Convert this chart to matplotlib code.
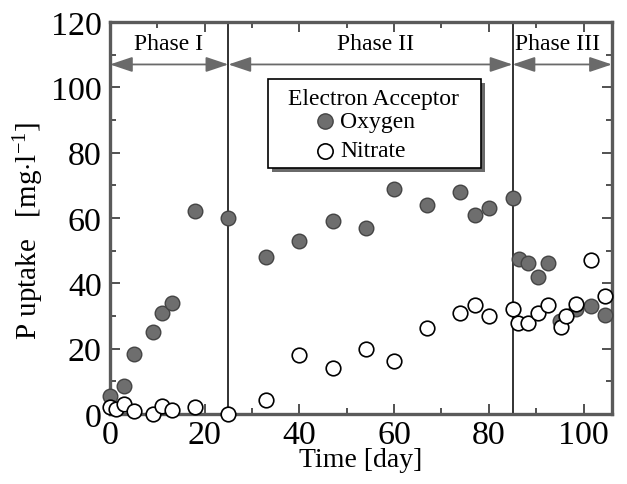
import matplotlib
matplotlib.use("Agg")
import matplotlib.pyplot as plt
from matplotlib.patches import ArrowStyle, Rectangle
from matplotlib.ticker import MultipleLocator
import matplotlib.transforms as mtransforms

plt.rcParams['font.family'] = ['Liberation Serif', 'DejaVu Serif']
plt.rcParams['mathtext.fontset'] = 'custom'
plt.rcParams['mathtext.rm'] = 'Liberation Serif'
plt.rcParams['mathtext.it'] = 'Liberation Serif:italic'

# ---- data ----
day_oxygen = [0, 3, 5, 9, 11, 13, 18, 25, 33, 40, 47, 54, 60, 67, 74, 77, 80,
              85, 86.3, 88.3, 90.3, 92.4, 95, 98.4, 101.6, 104.6]
p_oxygen = [5.5, 8.5, 18.5, 25, 31, 34, 62, 60, 48, 53, 59, 57, 69, 64, 68, 61, 63,
            66, 47.3, 46.3, 42, 46.3, 28.6, 32, 33.2, 30.3]

day_nitrate = [0, 1.2, 3, 5, 9, 11, 13, 18, 25, 33, 40, 47, 54, 60, 67, 74, 77, 80,
               85, 86.2, 88.3, 90.3, 92.5, 95.3, 96.4, 98.4, 101.6, 104.6]
p_nitrate = [2, 1.5, 3, 1, 0, 2.4, 1.1, 2.2, 0, 4.3, 18.2, 14, 20, 16.3, 26.2, 31, 33.4, 30.1,
             32.1, 28, 28, 31, 33.4, 26.5, 30, 33.8, 47, 36.2]

phase_bounds = [0, 25, 85, 106]
phase_labels = ['Phase I', 'Phase II', 'Phase III']
phase_label_x = [12.3, 56, 94.5]

series_labels = ['Oxygen', 'Nitrate']
legend_title = 'Electron Acceptor'

x_ticks = [0, 20, 40, 60, 80, 100]
y_ticks = [0, 20, 40, 60, 80, 100, 120]

oxy_face, oxy_edge = '#6e6e6e', '#444444'

fig = plt.figure(figsize=(6.27, 4.85), dpi=100)
ax = fig.add_axes([0.1754, 0.1443, 0.8006, 0.8083])

spine_col = '#5a5a5a'
for s in ax.spines.values():
    s.set_color(spine_col)
    s.set_linewidth(2.4)

ax.set_xlim(0, 106)
ax.set_ylim(0, 120)
ax.set_xticks(x_ticks)
ax.set_yticks(y_ticks)
ax.xaxis.set_minor_locator(MultipleLocator(10))
ax.yaxis.set_minor_locator(MultipleLocator(10))
ax.tick_params(which='both', direction='in', top=True, right=True,
               color='#333333', width=1.2, labelsize=24.5)
ax.tick_params(axis='y', pad=6)
ax.tick_params(axis='x', pad=4)
ax.tick_params(which='major', length=7.5)
ax.tick_params(which='minor', length=4)

# phase boundaries
for b in phase_bounds[1:-1]:
    ax.axvline(b, color='#222222', lw=1.3, zorder=2)

# phase arrows
astyle = ArrowStyle('<|-|>', head_length=1.25, head_width=0.42)
for i in range(3):
    ax.annotate('', xy=(phase_bounds[i + 1], 107), xytext=(phase_bounds[i], 107),
                arrowprops=dict(arrowstyle=astyle, mutation_scale=11, color='#6a6a6a',
                                lw=1.3, shrinkA=0, shrinkB=0),
                annotation_clip=False, zorder=3)
    ax.text(phase_label_x[i], 113.3, phase_labels[i], ha='center', va='center',
            fontsize=17)

ax.plot(day_oxygen, p_oxygen, 'o', ms=10.5, mfc=oxy_face, mec=oxy_edge, mew=1.0,
        clip_on=False, zorder=4)
ax.plot(day_nitrate, p_nitrate, 'o', ms=10.5, mfc='white', mec='black', mew=1.2,
        clip_on=False, zorder=5)

ax.set_xlabel('Time [day]', fontsize=20, labelpad=-2)
ax.set_ylabel('P uptake   [mg$\\cdot$l$^{-1}$]', fontsize=21)
ax.yaxis.set_label_coords(-0.128, 0.47)

# ---- legend box (drawn by hand) ----
bx0, by0, bw, bh = 0.315, 0.628, 0.424, 0.227
shadow_tr = ax.transAxes + mtransforms.ScaledTranslation(4 / 100, -4 / 100, fig.dpi_scale_trans)
ax.add_patch(Rectangle((bx0, by0), bw, bh, transform=shadow_tr, facecolor='#6a6a6a',
                       edgecolor='none', zorder=6, clip_on=False))
ax.add_patch(Rectangle((bx0, by0), bw, bh, transform=ax.transAxes, facecolor='white',
                       edgecolor='black', lw=1.2, zorder=7, clip_on=False))
ax.text(0.525, 0.806, legend_title, transform=ax.transAxes, ha='center', va='center',
        fontsize=17, zorder=8)
ax.plot([0.428], [0.747], 'o', transform=ax.transAxes, ms=11, mfc=oxy_face, mec=oxy_edge,
        mew=1.0, zorder=8, clip_on=False)
ax.plot([0.428], [0.671], 'o', transform=ax.transAxes, ms=11, mfc='white', mec='black',
        mew=1.2, zorder=8, clip_on=False)
ax.text(0.458, 0.747, series_labels[0], transform=ax.transAxes, ha='left', va='center',
        fontsize=17, zorder=8)
ax.text(0.458, 0.671, series_labels[1], transform=ax.transAxes, ha='left', va='center',
        fontsize=17, zorder=8)

fig.savefig('out.png', dpi=100)
